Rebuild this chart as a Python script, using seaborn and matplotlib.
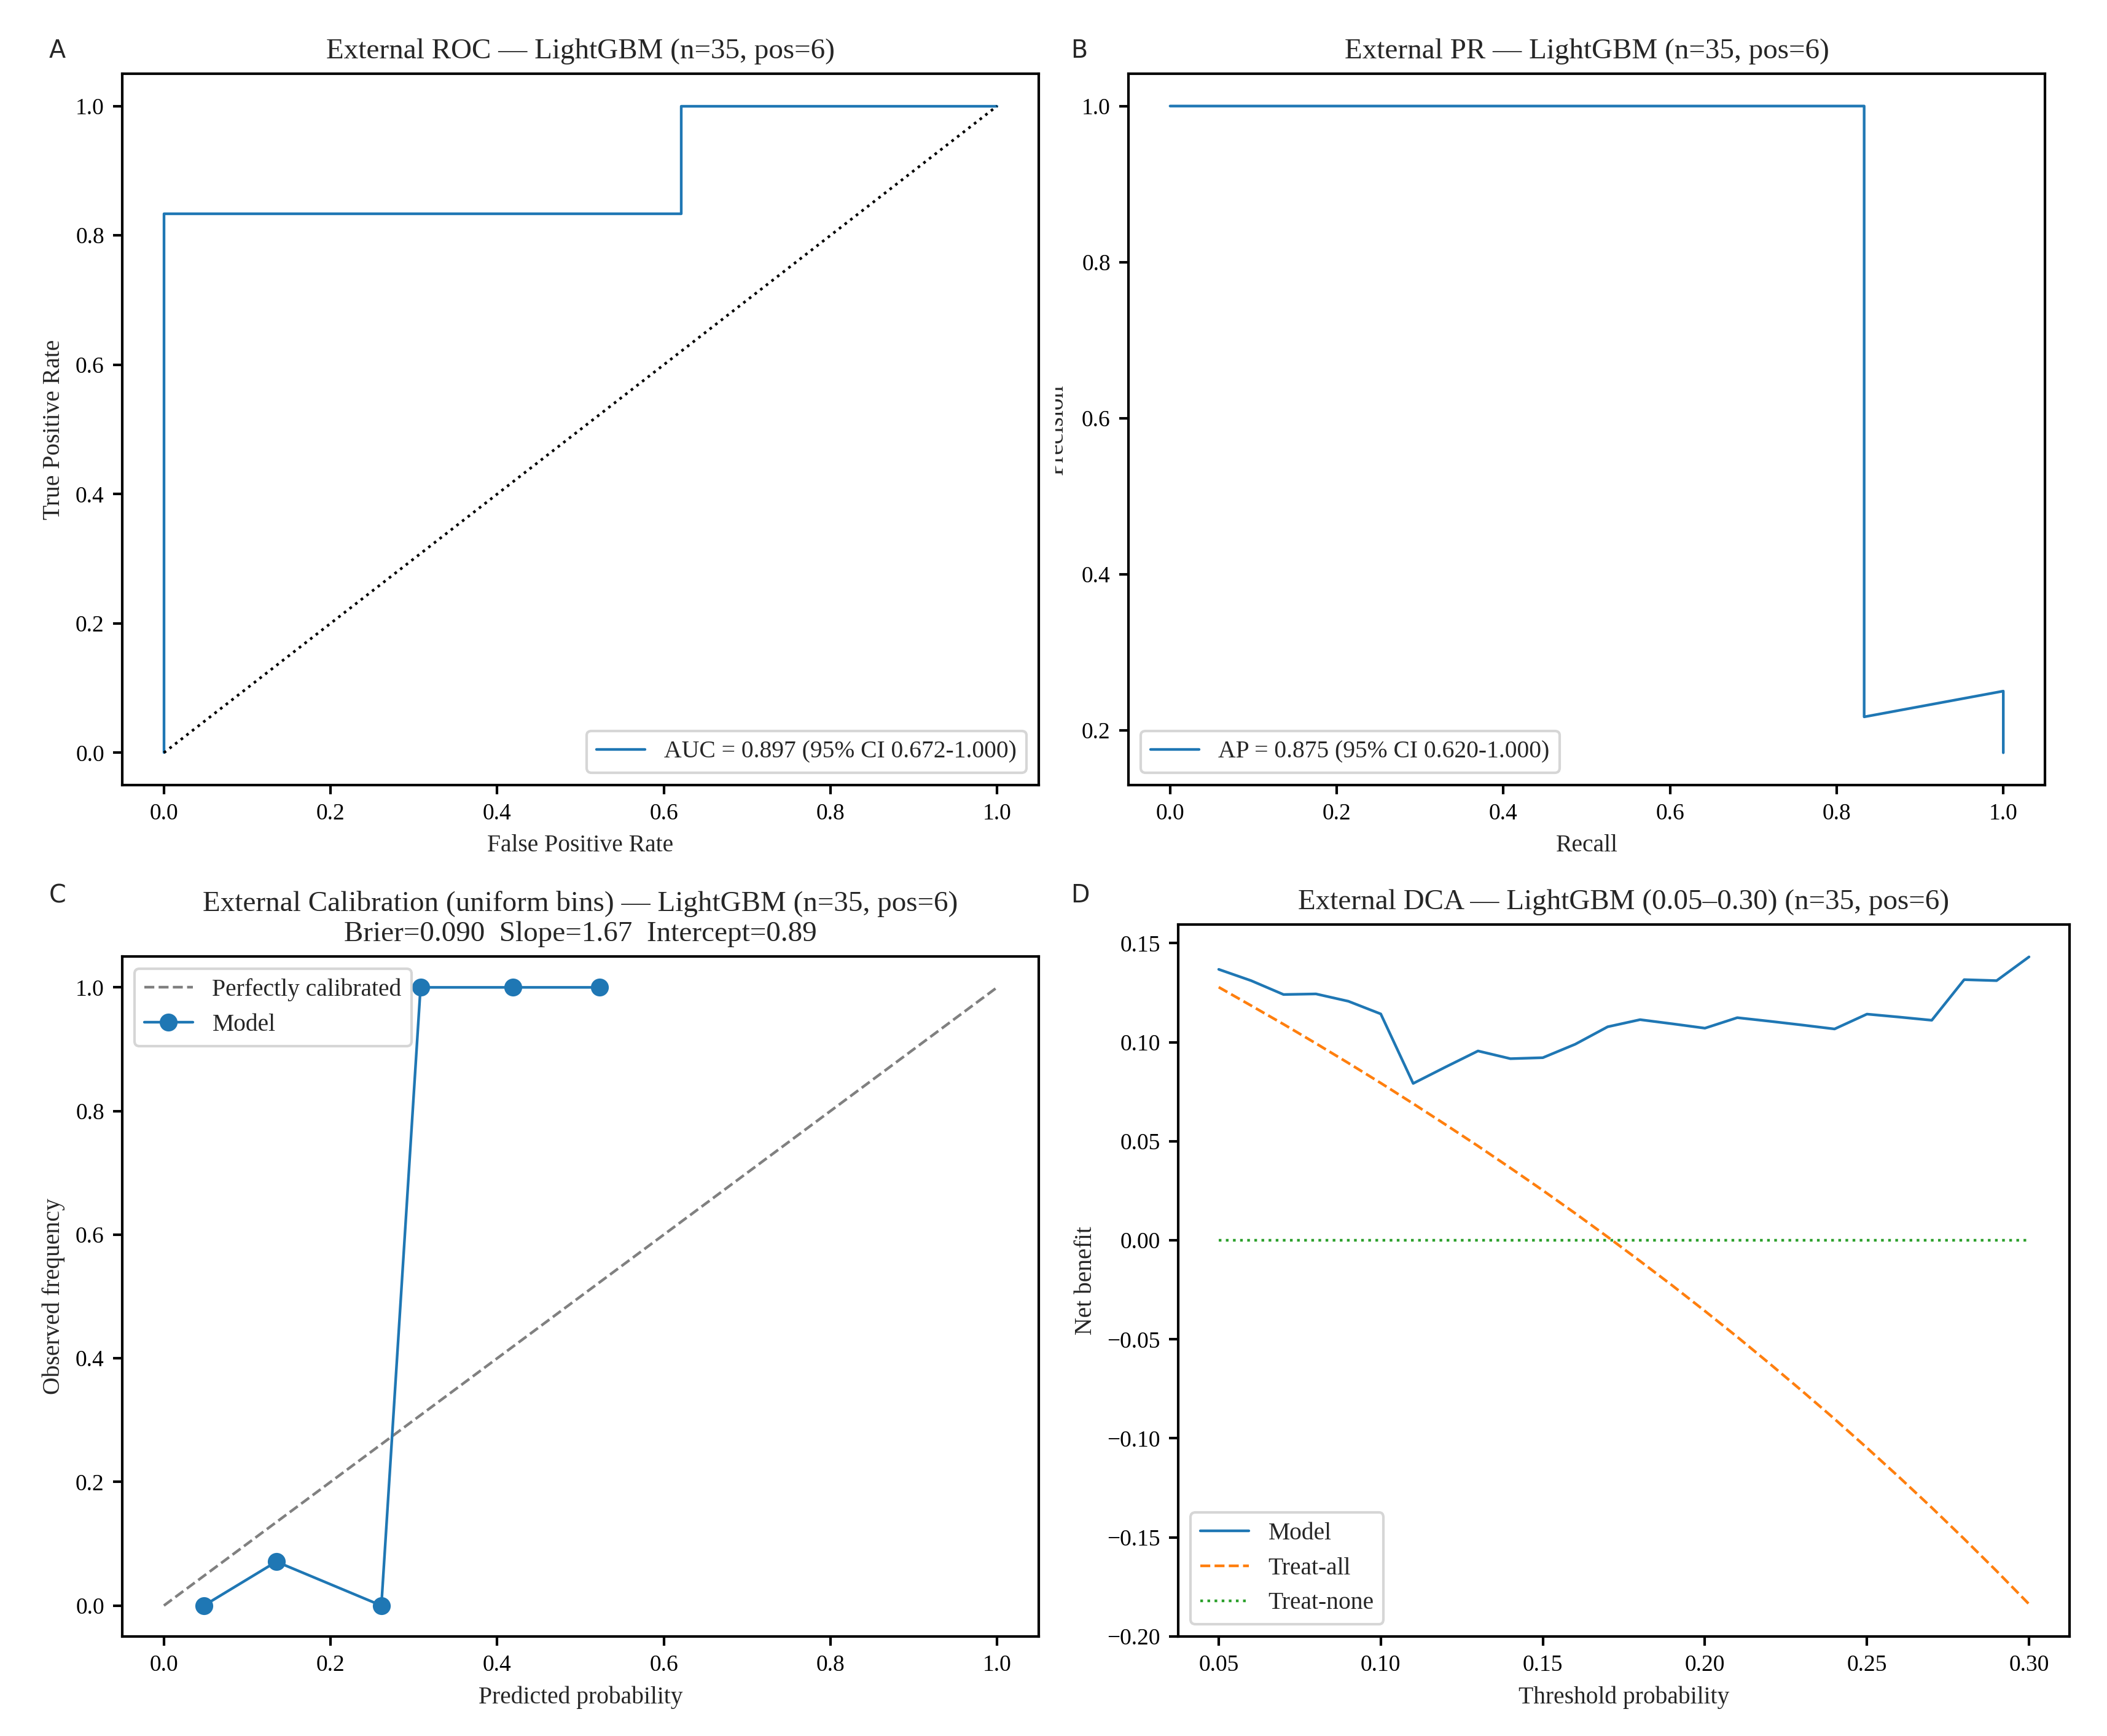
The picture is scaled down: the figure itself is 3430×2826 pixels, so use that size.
import matplotlib
matplotlib.use("Agg")
import matplotlib.pyplot as plt
import seaborn as sns
import pandas as pd
from matplotlib.patches import Rectangle

# ---------------- data ----------------
roc_fpr = [0.0, 0.0, 0.621, 0.621, 1.0]
roc_tpr = [0.0, 0.833, 0.833, 1.0, 1.0]
roc_label = "AUC = 0.897 (95% CI 0.672-1.000)"

pr_recall = [0.0, 0.833, 0.833, 1.0, 1.0]
pr_precision = [1.0, 1.0, 0.217, 0.25, 0.171]
pr_label = "AP = 0.875 (95% CI 0.620-1.000)"

cal_pred = [0.048, 0.135, 0.261, 0.308, 0.419, 0.523]
cal_obs = [0.0, 0.071, 0.0, 1.0, 1.0, 1.0]

dca_thr = [0.05, 0.06, 0.07, 0.08, 0.09, 0.10, 0.11, 0.12, 0.13, 0.14, 0.15, 0.16, 0.17,
           0.18, 0.19, 0.20, 0.21, 0.22, 0.23, 0.24, 0.25, 0.26, 0.27, 0.28, 0.29, 0.30]
dca_model = [0.1368, 0.1311, 0.1241, 0.1244, 0.1207, 0.1143, 0.0792, 0.0875, 0.0956, 0.0917,
             0.0922, 0.0990, 0.1078, 0.1114, 0.1093, 0.1071, 0.1124, 0.1106, 0.1087, 0.1067,
             0.1142, 0.1127, 0.1111, 0.1316, 0.1311, 0.1431]
dca_all = [0.1278, 0.1185, 0.1091, 0.0994, 0.0895, 0.0794, 0.0690, 0.0584, 0.0476, 0.0365,
           0.0252, 0.0136, 0.0017, -0.0105, -0.0229, -0.0357, -0.0488, -0.0623, -0.0761, -0.0902,
           -0.1048, -0.1197, -0.1350, -0.1508, -0.1670, -0.1837]
dca_none = [0.0] * 26

titles = [
    "External ROC \u2014 LightGBM (n=35, pos=6)",
    "External PR \u2014 LightGBM (n=35, pos=6)",
    "External Calibration (uniform bins) \u2014 LightGBM (n=35, pos=6)\nBrier=0.090  Slope=1.67  Intercept=0.89",
    "External DCA \u2014 LightGBM (0.05\u20130.30) (n=35, pos=6)",
]

# ---------------- style ----------------
sns.set_style("ticks")
plt.rcParams["font.family"] = ["Liberation Serif", "DejaVu Serif"]
plt.rcParams["axes.linewidth"] = 1.0
plt.rcParams["xtick.major.width"] = 1.0
plt.rcParams["ytick.major.width"] = 1.0
plt.rcParams["xtick.labelsize"] = 9
plt.rcParams["ytick.labelsize"] = 9
plt.rcParams["axes.labelsize"] = 9.5
plt.rcParams["axes.titlesize"] = 11.3
plt.rcParams["legend.fontsize"] = 9.5
plt.rcParams["axes.edgecolor"] = "black"
plt.rcParams["xtick.color"] = "black"
plt.rcParams["ytick.color"] = "black"
plt.rcParams["axes.unicode_minus"] = True

W, H = 3430, 2826
fig = plt.figure(figsize=(W / 300, H / 300), dpi=300)
fig.patch.set_facecolor("white")


def box(l, r, t, b):
    return [l / W, 1 - b / H, (r - l) / W, (b - t) / H]


axA = fig.add_axes(box(199, 1691, 120, 1278))
axB = fig.add_axes(box(1837, 3329, 120, 1278))
axC = fig.add_axes(box(199, 1691, 1557, 2664))
axD = fig.add_axes(box(1918, 3369, 1505, 2664))

blue = "#1f77b4"
orange = "#ff7f0e"
green = "#2ca02c"
LW = 1.05

# ---- A: ROC ----
sns.lineplot(x=roc_fpr, y=roc_tpr, sort=False, estimator=None, ax=axA,
             color=blue, lw=LW, label=roc_label)
sns.lineplot(x=[0, 1], y=[0, 1], sort=False, estimator=None, ax=axA,
             color="black", lw=LW, linestyle=":")
axA.set_xlim(-0.05, 1.05)
axA.set_ylim(-0.05, 1.05)
axA.set_xlabel("False Positive Rate")
axA.set_ylabel("True Positive Rate")
axA.set_title(titles[0])
axA.legend(loc="lower right")

# ---- B: PR ----
sns.lineplot(x=pr_recall, y=pr_precision, sort=False, estimator=None, ax=axB,
             color=blue, lw=LW, label=pr_label)
axB.set_xlim(-0.05, 1.05)
axB.set_xlabel("Recall")
axB.set_ylabel("Precision")
axB.set_title(titles[1])
axB.legend(loc="lower left")
axB.yaxis.set_label_coords(-0.066, 0.5)

# ---- C: calibration ----
sns.lineplot(x=[0, 1], y=[0, 1], sort=False, estimator=None, ax=axC,
             color="gray", lw=LW, linestyle="--", label="Perfectly calibrated")
sns.lineplot(x=cal_pred, y=cal_obs, sort=False, estimator=None, ax=axC,
             color=blue, lw=LW, marker="o", markersize=7, markeredgewidth=0,
             label="Model")
axC.set_xlim(-0.05, 1.05)
axC.set_ylim(-0.05, 1.05)
axC.set_xlabel("Predicted probability")
axC.set_ylabel("Observed frequency")
axC.set_title(titles[2])
axC.legend(loc="upper left")

# ---- D: DCA ----
dca = pd.DataFrame({"thr": dca_thr, "Model": dca_model,
                    "Treat-all": dca_all, "Treat-none": dca_none})
sns.lineplot(data=dca, x="thr", y="Model", ax=axD, color=blue, lw=LW, label="Model")
sns.lineplot(data=dca, x="thr", y="Treat-all", ax=axD, color=orange, lw=LW,
             linestyle="--", label="Treat-all")
sns.lineplot(data=dca, x="thr", y="Treat-none", ax=axD, color=green, lw=LW,
             linestyle=":", label="Treat-none")
axD.set_xlabel("Threshold probability")
axD.set_ylabel("Net benefit")
axD.set_title(titles[3])
axD.legend(loc="lower left")

for ax in (axA, axB, axC, axD):
    for s in ax.spines.values():
        s.set_visible(True)
        s.set_linewidth(1.0)
    ax.tick_params(direction="out", length=3.5)

# panel letters
for letter, (px, py) in zip("ABCD", [(80, 83), (1743, 83), (80, 1458), (1743, 1458)]):
    fig.text(px / W, 1 - py / H, letter, family="DejaVu Sans", fontsize=9.5,
             ha="left", va="center")

# cropped edge of panel B (its y-label is cut in the reference)
fig.patches.append(Rectangle((1697 / W, 1 - 1278 / H), (1718 - 1697) / W, (1278 - 120) / H,
                             transform=fig.transFigure, facecolor="white",
                             edgecolor="none", zorder=10))

fig.savefig("out.png", dpi=300, facecolor="white")
